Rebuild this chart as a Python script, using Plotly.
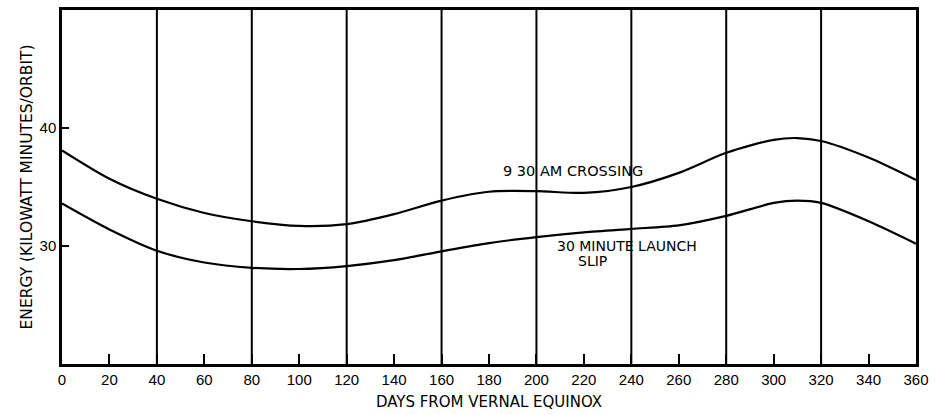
import plotly.graph_objects as go

# Days from vernal equinox and energy per orbit (kilowatt minutes/orbit)
days = [0, 20, 40, 60, 80, 100, 120, 140, 160, 180, 200, 220, 240, 260, 280, 300, 310, 320, 340, 360]
crossing_930 = [38.1, 35.7, 34.0, 32.8, 32.1, 31.7, 31.85, 32.7, 33.85, 34.6, 34.65, 34.5, 35.0, 36.2, 37.9, 39.0, 39.15, 38.9, 37.5, 35.6]
launch_slip_30 = [33.6, 31.4, 29.6, 28.6, 28.15, 28.05, 28.3, 28.8, 29.55, 30.25, 30.75, 31.15, 31.45, 31.75, 32.55, 33.65, 33.85, 33.65, 32.1, 30.2]

x_ticks = list(range(0, 361, 20))
y_ticks = [30, 40]
rule_days = list(range(40, 360, 40))

FONT = "DejaVu Sans"

fig = go.Figure()
for series in (crossing_930, launch_slip_30):
    fig.add_trace(go.Scatter(
        x=days, y=series, mode="lines",
        line=dict(color="black", width=2.2, shape="spline", smoothing=0.8),
        showlegend=False, hoverinfo="skip",
    ))

fig.add_annotation(x=185, y=36.35, text="9 30 AM CROSSING", showarrow=False,
                   xanchor="left", yanchor="middle",
                   font=dict(family=FONT, size=14.5, color="black"))
fig.add_annotation(x=208, y=30.0, text="30 MINUTE LAUNCH", showarrow=False,
                   xanchor="left", yanchor="middle",
                   font=dict(family=FONT, size=14, color="black"))
fig.add_annotation(x=216.5, y=28.7, text="SLIP", showarrow=False,
                   xanchor="left", yanchor="middle",
                   font=dict(family=FONT, size=14, color="black"))

fig.update_xaxes(
    range=[0, 360], tickvals=x_ticks, ticktext=[str(v) for v in x_ticks],
    ticks="inside", ticklen=10, tickwidth=2, tickcolor="black",
    showgrid=False,
    showline=True, linecolor="black", linewidth=2.5, mirror=True,
    zeroline=False,
    tickfont=dict(family="Liberation Sans", size=15, color="black"),
    title=dict(text="DAYS FROM VERNAL EQUINOX", standoff=10,
               font=dict(family=FONT, size=15, color="black")),
)
fig.update_yaxes(
    range=[20, 50], tickvals=y_ticks, ticktext=[str(v) for v in y_ticks],
    ticks="inside", ticklen=7, tickwidth=2, tickcolor="black",
    showgrid=False, zeroline=False,
    showline=True, linecolor="black", linewidth=2.5, mirror=True,
    tickfont=dict(family="Liberation Sans", size=15, color="black"),
    title=dict(text="ENERGY (KILOWATT MINUTES/ORBIT)", standoff=4,
               font=dict(family=FONT, size=15.5, color="black")),
)

# Vertical rules every 40 days
for d in rule_days:
    fig.add_shape(type="line", x0=d, x1=d, y0=20, y1=50, xref="x", yref="y",
                  line=dict(color="black", width=2), layer="below")

fig.update_layout(
    width=936, height=415,
    margin=dict(l=62, r=17, t=7, b=47),
    plot_bgcolor="white", paper_bgcolor="white",
)

fig.write_html("out.html")
